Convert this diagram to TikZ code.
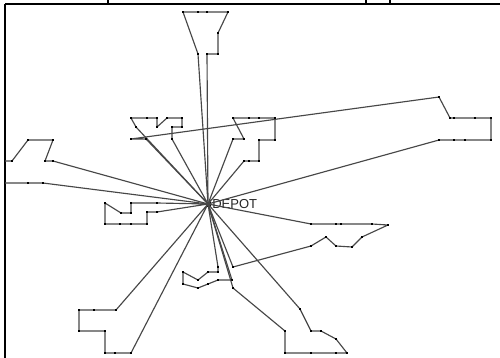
\documentclass[tikz,border=0pt]{standalone}
\usepackage{fontspec}
\setmainfont{Liberation Sans}
\tikzset{
  route/.style={draw=black!72, line width=0.65pt, line join=round},
  dotmark/.style={fill=black},
  frame/.style={draw=black, line width=0.8pt},
  depotmark/.style={fill=black, inner sep=0pt, minimum size=0.1cm, rectangle},
  lbl/.style={font=\fontsize{7.4pt}{8pt}\selectfont, text=black!85, inner sep=0pt, anchor=west}
}
\newcommand\myroute[1]{%
  \draw[route] (depot.center) \foreach \p in {#1}{ -- \p } -- (depot.center);
  \foreach \p in {#1}{\fill[dotmark] \p ++(-1.2,-1.2) rectangle ++(2.4,2.4);}%
}
\begin{document}
\begin{tikzpicture}[x=0.02cm,y=-0.02cm]
\useasboundingbox (0,0) rectangle (500,358);
\fill[white] (0,0) rectangle (500,358);
% frame
\draw[frame] (5,4) -- (500,4);
\draw[frame] (5,4) -- (5,358);
% cut-off fragments at the top edge
\draw[frame] (108,0) -- (108,4);
\draw[frame] (366,0) -- (366,4);
\draw[frame] (390,0) -- (390,4);
% depot
\node[depotmark] (depot) at (208,204) {};
\node[lbl] (depotlabel) at (212,204) {DEPOT};
% routes
\myroute{(198,54),(183,12),(198,12),(207,12),(228,12),(218,33),(218,54),(207,54)}
\myroute{(136,127),(131,118),(147,118),(157,118),(157,127),(167,118),(182,118),(182,127),(172,127),(172,139)}
\myroute{(146,139),(131,139),(439,97),(450,118),(454,118),(475,118),(491,118),(491,140),(465,140),(454,140),(439,140)}
\myroute{(233,139),(244,139),(233,118),(249,118),(259,118),(275,118),(275,140),(259,140),(259,161),(249,161),(244,161)}
\myroute{(157,203),(131,203),(131,213),(121,213),(105,203),(105,224),(120,224),(131,224),(147,224),(147,212),(157,212)}
\myroute{(116,310),(94,310),(79,310),(79,331),(105,331),(105,353),(115,353),(131,353)}
\myroute{(218,267),(218,272),(208,272),(198,280),(183,272),(183,284),(198,288),(208,284),(218,280),(232,280)}
\myroute{(233,288),(285,331),(285,353),(311,353),(336,353),(347,353),(336,339),(321,331),(311,331),(300,309)}
\myroute{(311,224),(336,224),(341,224),(372,224),(388,225),(362,237),(352,247),(336,246),(326,237),(311,246),(233,267)}
% left route leaving the frame
\draw[route] (depot.center) -- (53,161) -- (45,161) -- (53,140) -- (28,140) -- (12,161) -- (5,161);
\draw[route] (5,183) -- (28,183) -- (43,183) -- (depot.center);
\foreach \p in {(53,161),(45,161),(53,140),(28,140),(12,161),(28,183),(43,183)}{\fill[dotmark] \p ++(-1.2,-1.2) rectangle ++(2.4,2.4);}
\end{tikzpicture}
\end{document}
